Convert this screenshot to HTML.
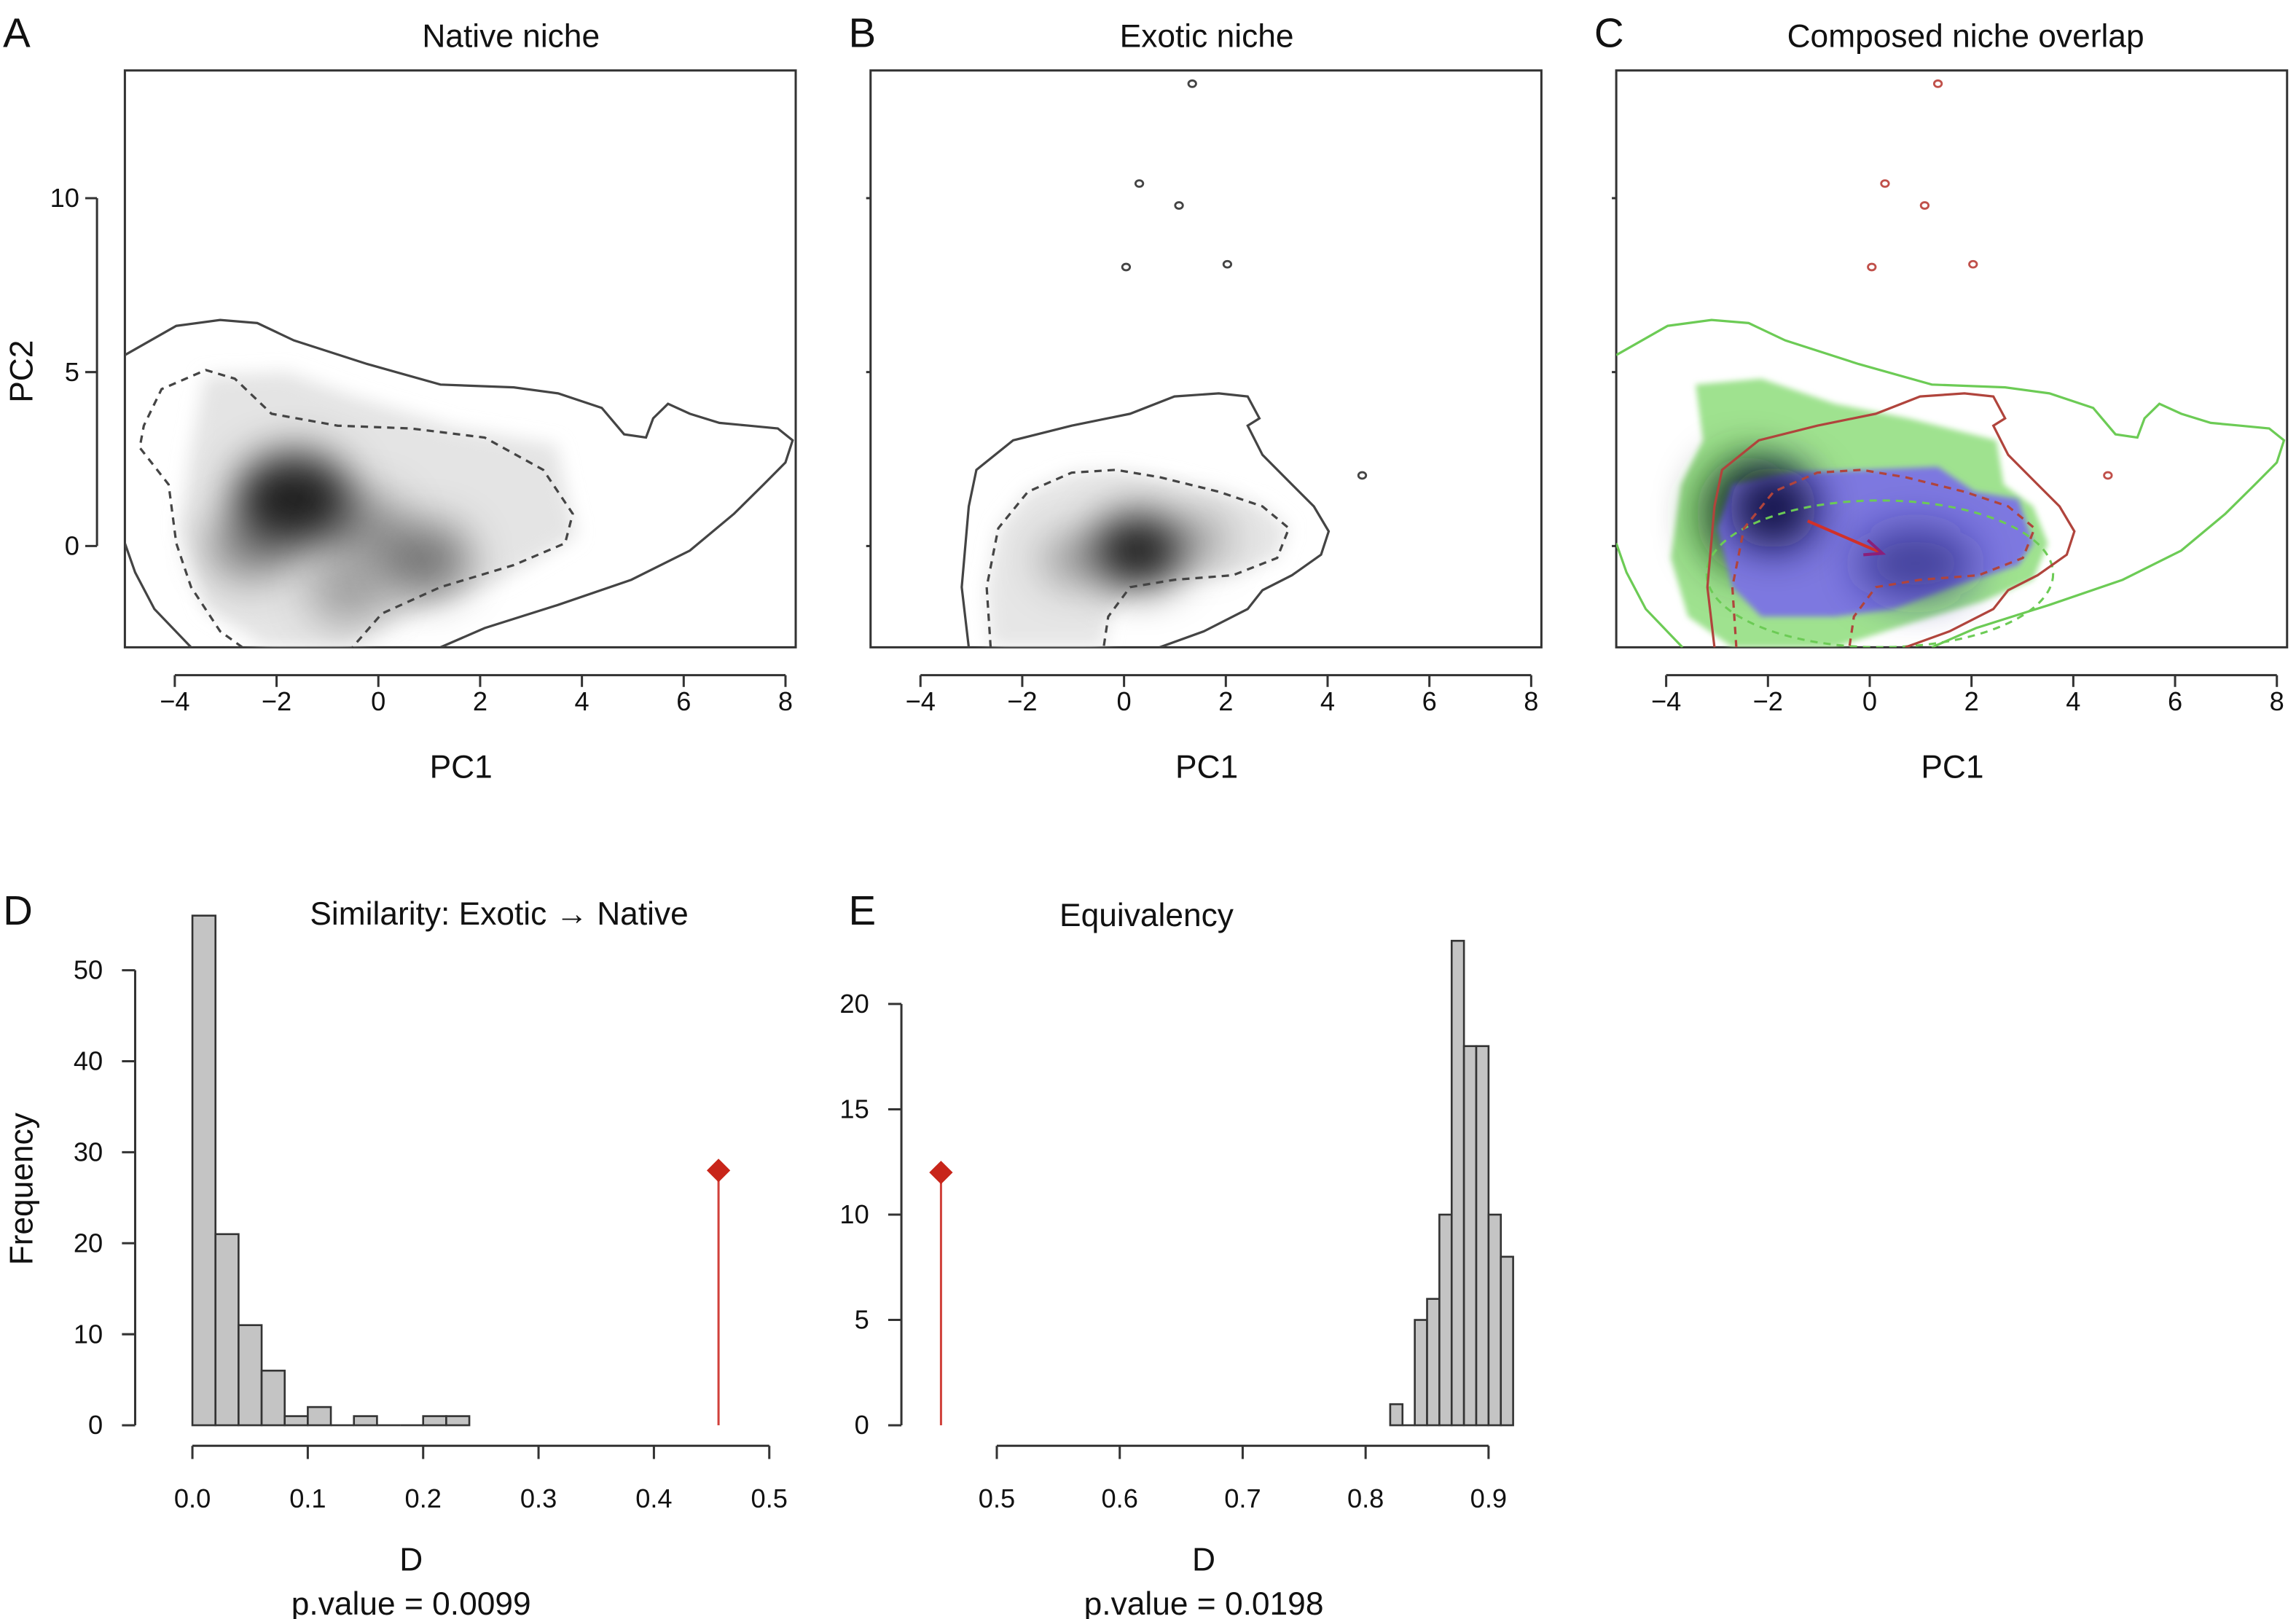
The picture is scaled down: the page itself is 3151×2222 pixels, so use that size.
<!DOCTYPE html>
<html><head><meta charset="utf-8"><style>
html,body{margin:0;padding:0;background:#fff}
svg{display:block}
text{font-family:"Liberation Sans",Arial,sans-serif;fill:#111}
</style></head><body>
<svg id="fig" width="3151" height="2222" viewBox="0 0 1564 1103" xmlns="http://www.w3.org/2000/svg">
<defs>
<filter id="blur8" x="-50%" y="-50%" width="200%" height="200%"><feGaussianBlur stdDeviation="6"/></filter>
<filter id="blur14" x="-80%" y="-80%" width="260%" height="260%"><feGaussianBlur stdDeviation="14"/></filter>
<filter id="blur3" x="-20%" y="-20%" width="140%" height="140%"><feGaussianBlur stdDeviation="2"/></filter>
<clipPath id="clipA"><rect x="85" y="48" width="457" height="393"/></clipPath>
<clipPath id="clipB"><rect x="593" y="48" width="457" height="393"/></clipPath>
<clipPath id="clipC"><rect x="1101" y="48" width="457" height="393"/></clipPath>
</defs>
</svg>
<script>
// ---------- data ----------
const nativeOuter = [[-4.98,5.49],[-3.97,6.33],[-3.11,6.50],[-2.38,6.41],[-1.66,5.91],[-0.22,5.23],[1.22,4.64],[2.66,4.56],[3.53,4.39],[4.39,3.97],[4.83,3.21],[5.26,3.12],[5.40,3.67],[5.69,4.09],[6.12,3.80],[6.70,3.54],[7.28,3.46],[7.85,3.38],[8.14,3.04],[8.0,2.4],[7.57,1.77],[6.99,0.93],[6.12,-0.13],[4.97,-0.97],[3.53,-1.69],[2.09,-2.36],[1.22,-2.91]];
const nativeOuterLeft = [[-4.98,0.08],[-4.78,-0.76],[-4.4,-1.81],[-3.68,-2.91]];
const nativeInner = [[-2.67,-2.91],[-3.11,-2.45],[-3.68,-1.18],[-3.97,0.08],[-4.12,1.77],[-4.69,2.83],[-4.61,3.46],[-4.26,4.51],[-3.39,5.06],[-2.82,4.81],[-2.10,3.80],[-0.80,3.46],[0.64,3.38],[2.09,3.12],[3.24,2.19],[3.82,0.93],[3.67,0.08],[2.66,-0.55],[1.22,-1.18],[0.07,-1.94],[-0.51,-2.91]];
const nativeGrey = [[-3.4,4.9],[-1.8,5.0],[-0.5,4.3],[1.5,3.4],[3.5,2.9],[3.7,1.5],[3.9,0.3],[2.4,-1.0],[0.6,-2.0],[-0.6,-2.9],[-2.2,-2.9],[-3.4,-1.8],[-3.9,0.5],[-3.7,2.6]];
const exoticOuter = [[-3.05,-2.91],[-3.19,-1.18],[-3.05,1.14],[-2.90,2.19],[-2.18,3.04],[-1.03,3.46],[0.12,3.80],[0.99,4.30],[1.86,4.39],[2.43,4.30],[2.66,3.67],[2.43,3.46],[2.72,2.62],[3.30,1.77],[3.73,1.14],[4.02,0.42],[3.87,-0.25],[3.30,-0.84],[2.72,-1.27],[2.43,-1.81],[1.57,-2.45],[0.70,-2.91]];
const exoticInner = [[-2.62,-2.91],[-2.70,-1.18],[-2.47,0.51],[-1.89,1.56],[-1.03,2.11],[-0.16,2.19],[0.70,1.98],[1.86,1.56],[2.72,1.14],[3.24,0.51],[3.01,-0.34],[2.14,-0.84],[0.99,-0.97],[0.12,-1.18],[-0.31,-2.03],[-0.40,-2.91]];
const exoticIslands = [[1.34,13.29],[0.30,10.42],[1.08,9.79],[0.04,8.02],[2.03,8.10],[4.68,2.03]];
const nativeDensity = [[-1.66,1.35,1.0],[-2.5,0.0,0.45],[0.9,-0.4,0.55],[-0.6,-1.3,0.35],[-0.3,0.6,0.4]];
const exoticDensity = [[0.27,-0.13,1.0],[-1.0,-0.4,0.35],[1.5,0.2,0.3]];
const greenRegion = [[-3.42,4.64],[-2.13,4.81],[-0.68,4.09],[0.76,3.67],[1.91,3.25],[2.49,3.04],[2.63,1.77],[3.21,1.14],[3.50,0.08],[3.21,-0.97],[2.20,-1.60],[0.76,-2.24],[-0.68,-2.91],[-2.70,-2.91],[-3.57,-2.03],[-3.91,-0.34],[-3.71,1.77],[-3.28,3.04]];
const overlapRegion = [[-2.70,1.77],[-1.55,2.11],[-0.11,2.19],[1.34,2.28],[2.06,1.56],[2.92,1.35],[3.21,0.08],[2.92,-0.55],[1.62,-1.18],[0.47,-1.81],[-0.68,-2.03],[-2.13,-2.03],[-2.70,-1.18],[-2.99,0.51]];
const centroidShift = [[-1.22,0.72],[0.25,-0.21]];
const pcXTicks = [-4,-2,0,2,4,6,8];
const pcYTicks = [0,5,10];

const simBins = [0,0.02,0.04,0.06,0.08,0.10,0.12,0.14,0.16,0.18,0.20,0.22];
const simCounts = [56,21,11,6,1,2,0,1,0,0,1,1];
const simBinWidth = 0.02;
const simObserved = [0.456,28];
const simXTicks = ["0.0","0.1","0.2","0.3","0.4","0.5"];
const simYTicks = [0,10,20,30,40,50];

const eqBins = [0.82,0.83,0.84,0.85,0.86,0.87,0.88,0.89,0.90,0.91];
const eqCounts = [1,0,5,6,10,23,18,18,10,8];
const eqBinWidth = 0.01;
const eqObserved = [0.4546,12];
const eqXTicks = ["0.5","0.6","0.7","0.8","0.9"];
const eqYTicks = [0,5,10,15,20];

// ---------- helpers ----------
const NS="http://www.w3.org/2000/svg";
const svg=document.getElementById('fig');
function mk(tag,attrs,parent){const e=document.createElementNS(NS,tag);for(const k in attrs)e.setAttribute(k,attrs[k]);(parent||svg).appendChild(e);return e;}
function txt(x,y,s,size,anchor,parent,rot){const t=mk('text',{x:x,y:y,'font-size':size,'text-anchor':anchor||'middle'},parent);if(rot)t.setAttribute('transform',`rotate(-90 ${x} ${y})`);t.textContent=s;return t;}

function pcScale(offset){
  return {x:v=>offset+119+(v+4)*34.67, y:v=>372-v*23.7};
}
function pathOf(pts,s,close){return pts.map((p,i)=>(i?'L':'M')+s.x(p[0]).toFixed(1)+','+s.y(p[1]).toFixed(1)).join('')+(close?'Z':'');}

function pcAxes(offset,showY,g){
  const s=pcScale(offset);
  const box=mk('rect',{x:offset+85,y:48,width:457,height:393,fill:'none',stroke:'#333','stroke-width':1.5},g);
  
  
  const xa=mk('g',{},g);
  
  
  mk('line',{x1:s.x(-4),x2:s.x(8),y1:460,y2:460,stroke:'#333','stroke-width':1.5},xa);
  pcXTicks.forEach(t=>{mk('line',{x1:s.x(t),x2:s.x(t),y1:460,y2:468,stroke:'#333','stroke-width':1.5},xa);
    const l=txt(s.x(t),484,(t<0?'\u2212':'')+Math.abs(t),18,'middle',xa);
    
    });
  const xt=txt(offset+314,530,'PC1',22,'middle',g);
  
  
  const ya=mk('g',{},g);
  
  
  if(showY){
    mk('line',{x1:66,x2:66,y1:s.y(0),y2:s.y(10),stroke:'#333','stroke-width':1.5},ya);
    pcYTicks.forEach(t=>{mk('line',{x1:58,x2:66,y1:s.y(t),y2:s.y(t),stroke:'#333','stroke-width':1.5},ya);
      const l=txt(54,s.y(t)+6,String(t),18,'end',ya);
      
      });
    const yt=txt(22,253,'PC2',22,'middle',g,true);
    
    
  } else {
    pcYTicks.forEach(t=>mk('line',{x1:offset+85-3,x2:offset+85,y1:s.y(t),y2:s.y(t),stroke:'#333','stroke-width':1.5},ya));
  }
  return s;
}
function densityBlobs(data,s,g,color,rx,ry){
  data.forEach(d=>{const k=0.55+0.45*d[2];
    const e=mk('ellipse',{cx:s.x(d[0]),cy:s.y(d[1]),rx:rx*k,ry:ry*k,fill:color,'fill-opacity':d[2]*0.85,filter:'url(#blur14)'},g);
    
    });
}
function line(pts,s,g,color,dash,name,close){
  const p=mk('path',{d:pathOf(pts,s,close),fill:'none',stroke:color,'stroke-width':1.6,'stroke-dasharray':dash||'none'},g);
  
  
  return p;
}
function islands(s,g,color){
  exoticIslands.forEach(p=>{const c=mk('ellipse',{cx:s.x(p[0]),cy:s.y(p[1]),rx:2.6,ry:2.2,fill:'none',stroke:color,'stroke-width':1.4},g);
    
    });
}

// ---------- Panel A ----------
const gA=mk('g',{});


const sA=pcAxes(0,true,gA);
const dA=mk('g',{'clip-path':'url(#clipA)'},gA);
const bgA=mk('path',{d:pathOf(nativeGrey,sA,true),fill:'#e4e4e4',filter:'url(#blur8)'},dA);


densityBlobs(nativeDensity,sA,dA,'#000',40,32);
line(nativeOuter,sA,dA,'#444',null,'native-outer-contour');
line(nativeOuterLeft,sA,dA,'#444',null,'native-outer-contour-left');
line(nativeInner,sA,dA,'#444','5,4','native-inner-contour');

// ---------- Panel B ----------
const gB=mk('g',{});


const sB=pcAxes(508,false,gB);
const dB=mk('g',{'clip-path':'url(#clipB)'},gB);
const bgB=mk('path',{d:pathOf(exoticInner,sB,true),fill:'#e6e6e6',filter:'url(#blur8)'},dB);


densityBlobs(exoticDensity,sB,dB,'#000',32,26);
line(exoticOuter,sB,dB,'#444',null,'exotic-outer-contour');
line(exoticInner,sB,dB,'#444','5,4','exotic-inner-contour');
islands(sB,dB,'#444');

// ---------- Panel C ----------
const gC=mk('g',{});


const sC=pcAxes(1016,false,gC);
const dC=mk('g',{'clip-path':'url(#clipC)'},gC);
const gr=mk('path',{d:pathOf(greenRegion,sC,true),fill:'#9fe28f',filter:'url(#blur3)'},dC);


const gd=mk('ellipse',{cx:sC.x(-2.4),cy:sC.y(0.9),rx:35,ry:40,fill:'#0c3a0c','fill-opacity':0.7,filter:'url(#blur14)'},dC);


const ov=mk('path',{d:pathOf(overlapRegion,sC,true),fill:'#7d78e0',filter:'url(#blur3)'},dC);


const dk=mk('ellipse',{cx:sC.x(-1.9),cy:sC.y(1.1),rx:30,ry:28,fill:'#0a0a40','fill-opacity':0.95,filter:'url(#blur14)'},dC);


const dk2=mk('ellipse',{cx:sC.x(0.9),cy:sC.y(-0.5),rx:40,ry:25,fill:'#1a1a70','fill-opacity':0.6,filter:'url(#blur14)'},dC);


line(nativeOuter,sC,dC,'#6ccb55',null,'native-outer-contour');
line(nativeOuterLeft,sC,dC,'#6ccb55',null,'native-outer-contour-left');
const gdash=mk('ellipse',{cx:sC.x(0.2),cy:sC.y(-0.8),rx:118,ry:50,fill:'none',stroke:'#6ccb55','stroke-width':1.5,'stroke-dasharray':'5,4'},dC);


line(exoticOuter,sC,dC,'#b0443c',null,'exotic-outer-contour');
line(exoticInner,sC,dC,'#b0443c','5,4','exotic-inner-contour');
islands(sC,dC,'#c0504a');
const ar=mk('line',{x1:sC.x(centroidShift[0][0]),y1:sC.y(centroidShift[0][1]),x2:sC.x(centroidShift[1][0]),y2:sC.y(centroidShift[1][1]),stroke:'#d0302a','stroke-width':2},dC);


{const x2=sC.x(centroidShift[1][0]),y2=sC.y(centroidShift[1][1]);
 const hd=mk('path',{d:`M${x2-10},${y2-9}L${x2},${y2}L${x2-13},${y2+1}`,fill:'none',stroke:'#8a1f7a','stroke-width':2},dC);
 
 }

// titles / letters
[[348,32,'Native niche'],[822,32,'Exotic niche'],[1339,32,'Composed niche overlap'],[340,630,'Similarity: Exotic \u2192 Native'],[781,631,'Equivalency']].forEach(t=>{
  const e=txt(t[0],t[1],t[2],22,'middle');
  
  });
[[2,32,'A'],[578,32,'B'],[1086,32,'C'],[2,630,'D'],[578,630,'E']].forEach(t=>{
  const e=txt(t[0],t[1],t[2],28,'start');
  
  });

// ---------- Histograms ----------
function histogram(cfg){
  const g=mk('g',{});
  
  
  const x=v=>cfg.x0px+(v-cfg.x0)*cfg.pxPerX;
  const y=v=>971-v*cfg.pxPerY;
  cfg.bins.forEach((b,i)=>{
    const h=cfg.counts[i]*cfg.pxPerY;
    const r=mk('rect',{x:x(b),y:y(cfg.counts[i]),width:cfg.bw*cfg.pxPerX,height:h,fill:'#c4c4c4',stroke:'#333','stroke-width':1.3},g);
    
    
    if(h===0){mk('line',{x1:x(b),x2:x(b+cfg.bw),y1:971,y2:971,stroke:'#333','stroke-width':1.3},g);}
  });
  const xa=mk('g',{},g);
  
  
  const xv=cfg.xTicks.map(Number);
  mk('line',{x1:x(xv[0]),x2:x(xv[xv.length-1]),y1:985,y2:985,stroke:'#333','stroke-width':1.5},xa);
  cfg.xTicks.forEach(t=>{mk('line',{x1:x(+t),x2:x(+t),y1:985,y2:994,stroke:'#333','stroke-width':1.5},xa);
    const l=txt(x(+t),1027,t,18,'middle',xa);
    
    });
  const ya=mk('g',{},g);
  
  
  const yv=cfg.yTicks;
  mk('line',{x1:cfg.yAxisX,x2:cfg.yAxisX,y1:y(yv[0]),y2:y(yv[yv.length-1]),stroke:'#333','stroke-width':1.5},ya);
  yv.forEach(t=>{mk('line',{x1:cfg.yAxisX-9,x2:cfg.yAxisX,y1:y(t),y2:y(t),stroke:'#333','stroke-width':1.5},ya);
    const l=txt(cfg.yAxisX-22,y(t)+6,String(t),18,'end',ya);
    
    });
  const ox=x(cfg.obs[0]),oy=y(cfg.obs[1]);
  const ol=mk('line',{x1:ox,x2:ox,y1:971,y2:oy,stroke:'#d0403a','stroke-width':1.5},g);
  
  
  const od=mk('path',{d:`M${ox},${oy-8}L${ox+8},${oy}L${ox},${oy+8}L${ox-8},${oy}Z`,fill:'#c8251a'},g);
  
  
  const xt=txt(cfg.cx,1070,'D',22,'middle',g);
  
  
  const pv=txt(cfg.cx,1100,cfg.p,22,'middle',g);
  
  
}
histogram({name:'panel-d-similarity-histogram',bins:simBins,counts:simCounts,bw:simBinWidth,obs:simObserved,xTicks:simXTicks,yTicks:simYTicks,x0:0,x0px:131,pxPerX:786,pxPerY:6.2,yAxisX:92,cx:280,p:'p.value = 0.0099'});
histogram({name:'panel-e-equivalency-histogram',bins:eqBins,counts:eqCounts,bw:eqBinWidth,obs:eqObserved,xTicks:eqXTicks,yTicks:eqYTicks,x0:0.5,x0px:679,pxPerX:837.5,pxPerY:14.35,yAxisX:614,cx:820,p:'p.value = 0.0198'});
const fq=txt(22,810,'Frequency',22,'middle',null,true);


</script>
</body></html>
